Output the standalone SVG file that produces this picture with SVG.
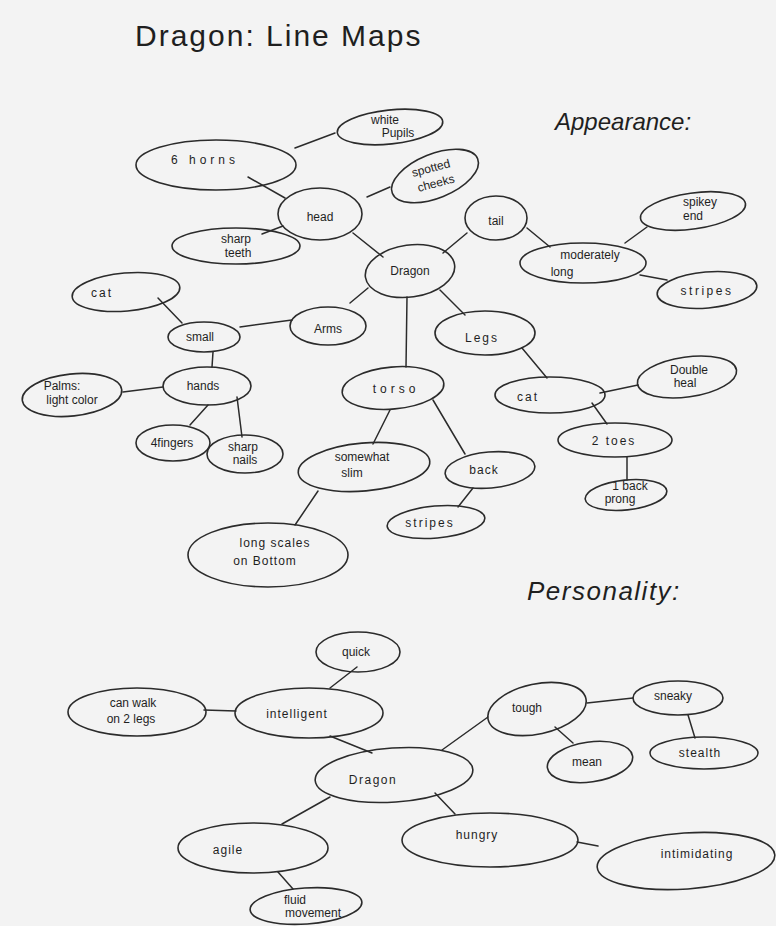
<svg xmlns="http://www.w3.org/2000/svg" width="776" height="926" viewBox="0 0 776 926">
<style>
.n ellipse{fill:none;stroke:#2b2b2b;stroke-width:1.6}
.n text{font-family:"Liberation Sans","DejaVu Sans",sans-serif;text-anchor:middle;fill:#1f1f1f;font-size:12px}
#links line{stroke:#2b2b2b;stroke-width:1.5;stroke-linecap:round}
.h{font-family:"Liberation Sans","DejaVu Sans",sans-serif;fill:#1f1f1f}
</style>
<rect width="776" height="926" fill="#f3f3f3"/>
<text class="h" x="135" y="46" font-size="30" letter-spacing="2">Dragon: Line Maps</text>
<text class="h" x="555" y="130" font-size="24" font-style="italic">Appearance:</text>
<text class="h" x="527" y="600" font-size="26" font-style="italic" letter-spacing="1.5">Personality:</text>
<g id="links">
<line x1="353" y1="233" x2="383" y2="257"/>
<line x1="248" y1="177" x2="285" y2="198"/>
<line x1="295" y1="148" x2="335" y2="133"/>
<line x1="367" y1="197" x2="390" y2="187"/>
<line x1="283" y1="226" x2="262" y2="234"/>
<line x1="443" y1="253" x2="467" y2="233"/>
<line x1="527" y1="228" x2="550" y2="247"/>
<line x1="625" y1="243" x2="647" y2="227"/>
<line x1="640" y1="275" x2="667" y2="280"/>
<line x1="368" y1="288" x2="350" y2="303"/>
<line x1="240" y1="327" x2="292" y2="320"/>
<line x1="158" y1="298" x2="182" y2="323"/>
<line x1="213" y1="352" x2="212" y2="367"/>
<line x1="123" y1="392" x2="163" y2="387"/>
<line x1="208" y1="405" x2="190" y2="425"/>
<line x1="237" y1="397" x2="242" y2="437"/>
<line x1="407" y1="297" x2="406" y2="367"/>
<line x1="440" y1="290" x2="465" y2="315"/>
<line x1="522" y1="348" x2="547" y2="378"/>
<line x1="600" y1="393" x2="638" y2="385"/>
<line x1="592" y1="403" x2="607" y2="424"/>
<line x1="627" y1="457" x2="627" y2="480"/>
<line x1="390" y1="410" x2="373" y2="444"/>
<line x1="433" y1="400" x2="465" y2="454"/>
<line x1="473" y1="488" x2="458" y2="507"/>
<line x1="318" y1="491" x2="295" y2="525"/>
<line x1="357" y1="667" x2="330" y2="688"/>
<line x1="204" y1="710" x2="236" y2="711"/>
<line x1="330" y1="736" x2="372" y2="753"/>
<line x1="330" y1="797" x2="282" y2="824"/>
<line x1="278" y1="872" x2="293" y2="889"/>
<line x1="442" y1="750" x2="488" y2="717"/>
<line x1="587" y1="703" x2="633" y2="698"/>
<line x1="555" y1="727" x2="573" y2="743"/>
<line x1="688" y1="715" x2="695" y2="738"/>
<line x1="435" y1="793" x2="455" y2="814"/>
<line x1="577" y1="842" x2="598" y2="846"/>
</g>
<g id="n-horns" class="n"><ellipse cx="216" cy="165" rx="80" ry="25"/><text x="205" y="164" font-size="18" letter-spacing="4">6 horns</text></g>
<g id="n-pupils" class="n"><ellipse cx="390" cy="127" rx="53" ry="17" transform="rotate(-6 390 127)"/><text x="385" y="124" font-size="11">white</text><text x="398" y="137" font-size="11">Pupils</text></g>
<g id="n-cheeks" class="n"><ellipse cx="435" cy="176" rx="46" ry="22" transform="rotate(-22 435 176)"/><text x="432" y="172" font-size="11" transform="rotate(-15 432 172)">spotted</text><text x="437" y="187" font-size="11" transform="rotate(-15 437 187)">cheeks</text></g>
<g id="n-head" class="n"><ellipse cx="320" cy="214" rx="42" ry="26"/><text x="320" y="221" font-size="21">head</text></g>
<g id="n-teeth" class="n"><ellipse cx="236" cy="246" rx="64" ry="18"/><text x="236" y="243" font-size="11">sharp</text><text x="238" y="257" font-size="11">teeth</text></g>
<g id="n-tail" class="n"><ellipse cx="496" cy="218" rx="31" ry="22"/><text x="496" y="225" font-size="20">tail</text></g>
<g id="n-dragon1" class="n"><ellipse cx="410" cy="271" rx="45" ry="26" transform="rotate(-8 410 271)"/><text x="410" y="275" font-size="11">Dragon</text></g>
<g id="n-modlong" class="n"><ellipse cx="583" cy="263" rx="63" ry="20"/><text x="590" y="259" font-size="12">moderately</text><text x="562" y="276" font-size="13">long</text></g>
<g id="n-spiky" class="n"><ellipse cx="693" cy="211" rx="53" ry="18" transform="rotate(-8 693 211)"/><text x="700" y="206" font-size="12">spikey</text><text x="693" y="220" font-size="12">end</text></g>
<g id="n-stripes1" class="n"><ellipse cx="707" cy="290" rx="50" ry="18" transform="rotate(-5 707 290)"/><text x="707" y="295" font-size="15" letter-spacing="2.5">stripes</text></g>
<g id="n-cat1" class="n"><ellipse cx="126" cy="292" rx="54" ry="19" transform="rotate(-5 126 292)"/><text x="102" y="297" font-size="16" letter-spacing="2">cat</text></g>
<g id="n-small" class="n"><ellipse cx="204" cy="337" rx="36" ry="15"/><text x="200" y="341" font-size="12">small</text></g>
<g id="n-arms" class="n"><ellipse cx="328" cy="326" rx="38" ry="19"/><text x="328" y="333" font-size="19">Arms</text></g>
<g id="n-hands" class="n"><ellipse cx="207" cy="386" rx="44" ry="19"/><text x="203" y="390" font-size="13">hands</text></g>
<g id="n-palms" class="n"><ellipse cx="72" cy="395" rx="50" ry="21" transform="rotate(-6 72 395)"/><text x="62" y="390" font-size="10">Palms:</text><text x="72" y="404" font-size="10">light color</text></g>
<g id="n-fingers" class="n"><ellipse cx="173" cy="443" rx="37" ry="18"/><text x="172" y="447" font-size="11">4fingers</text></g>
<g id="n-nails" class="n"><ellipse cx="245" cy="454" rx="38" ry="19"/><text x="243" y="451" font-size="10">sharp</text><text x="245" y="464" font-size="10">nails</text></g>
<g id="n-legs" class="n"><ellipse cx="485" cy="333" rx="50" ry="22"/><text x="482" y="342" font-size="24" letter-spacing="2">Legs</text></g>
<g id="n-torso" class="n"><ellipse cx="393" cy="388" rx="51" ry="21" transform="rotate(-5 393 388)"/><text x="396" y="393" font-size="16" letter-spacing="4">torso</text></g>
<g id="n-cat2" class="n"><ellipse cx="550" cy="395" rx="55" ry="18"/><text x="528" y="401" font-size="16" letter-spacing="2">cat</text></g>
<g id="n-heal" class="n"><ellipse cx="687" cy="377" rx="50" ry="20" transform="rotate(-8 687 377)"/><text x="689" y="374" font-size="11">Double</text><text x="685" y="387" font-size="11">heal</text></g>
<g id="n-toes" class="n"><ellipse cx="615" cy="440" rx="57" ry="17"/><text x="614" y="445" font-size="15" letter-spacing="2">2 toes</text></g>
<g id="n-prong" class="n"><ellipse cx="626" cy="495" rx="41" ry="15" transform="rotate(-6 626 495)"/><text x="630" y="490" font-size="9">1 back</text><text x="620" y="503" font-size="9">prong</text></g>
<g id="n-slim" class="n"><ellipse cx="364" cy="467" rx="66" ry="24" transform="rotate(-5 364 467)"/><text x="362" y="461" font-size="10">somewhat</text><text x="352" y="477" font-size="12">slim</text></g>
<g id="n-back" class="n"><ellipse cx="490" cy="470" rx="45" ry="18" transform="rotate(-5 490 470)"/><text x="484" y="474" font-size="12" letter-spacing="1">back</text></g>
<g id="n-stripes2" class="n"><ellipse cx="436" cy="522" rx="49" ry="16" transform="rotate(-5 436 522)"/><text x="430" y="527" font-size="14" letter-spacing="2">stripes</text></g>
<g id="n-scales" class="n"><ellipse cx="268" cy="555" rx="80" ry="32"/><text x="275" y="547" font-size="11" letter-spacing="1">long scales</text><text x="265" y="565" font-size="13" letter-spacing="1">on Bottom</text></g>
<g id="n-quick" class="n"><ellipse cx="358" cy="652" rx="42" ry="20"/><text x="356" y="656" font-size="12">quick</text></g>
<g id="n-walk" class="n"><ellipse cx="137" cy="712" rx="69" ry="24"/><text x="133" y="707" font-size="11">can walk</text><text x="131" y="723" font-size="13">on 2 legs</text></g>
<g id="n-intel" class="n"><ellipse cx="309" cy="713" rx="74" ry="25"/><text x="297" y="718" font-size="16" letter-spacing="1">intelligent</text></g>
<g id="n-dragon2" class="n"><ellipse cx="394" cy="775" rx="79" ry="27" transform="rotate(-4 394 775)"/><text x="373" y="784" font-size="14" letter-spacing="1.5">Dragon</text></g>
<g id="n-agile" class="n"><ellipse cx="253" cy="848" rx="75" ry="25"/><text x="228" y="854" font-size="15" letter-spacing="1">agile</text></g>
<g id="n-fluid" class="n"><ellipse cx="306" cy="906" rx="56" ry="18" transform="rotate(-4 306 906)"/><text x="295" y="904" font-size="10">fluid</text><text x="313" y="917" font-size="9">movement</text></g>
<g id="n-tough" class="n"><ellipse cx="537" cy="709" rx="50" ry="25" transform="rotate(-12 537 709)"/><text x="527" y="712" font-size="14">tough</text></g>
<g id="n-sneaky" class="n"><ellipse cx="678" cy="698" rx="45" ry="17"/><text x="673" y="700" font-size="12">sneaky</text></g>
<g id="n-mean" class="n"><ellipse cx="590" cy="762" rx="43" ry="20" transform="rotate(-8 590 762)"/><text x="587" y="766" font-size="12">mean</text></g>
<g id="n-stealth" class="n"><ellipse cx="704" cy="753" rx="54" ry="16"/><text x="700" y="757" font-size="13" letter-spacing="1">stealth</text></g>
<g id="n-hungry" class="n"><ellipse cx="490" cy="840" rx="88" ry="27"/><text x="477" y="839" font-size="17" letter-spacing="1">hungry</text></g>
<g id="n-intim" class="n"><ellipse cx="686" cy="861" rx="89" ry="28" transform="rotate(-4 686 861)"/><text x="697" y="858" font-size="15" letter-spacing="1">intimidating</text></g>
</svg>
